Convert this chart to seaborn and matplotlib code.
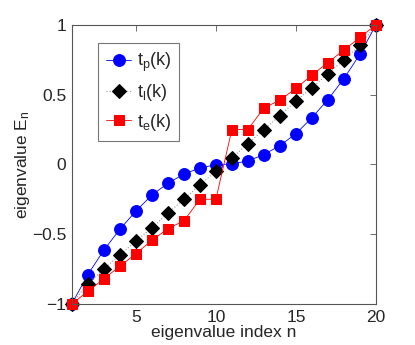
import pandas as pd
import matplotlib
matplotlib.use("Agg")
import matplotlib.pyplot as plt
import seaborn as sns

# eigenvalue index
n = list(range(1, 21))

# eigenvalues
tp = [-1.0, -0.79, -0.615, -0.465, -0.335, -0.22, -0.135, -0.07, -0.025, -0.003,
      0.003, 0.025, 0.07, 0.135, 0.22, 0.335, 0.465, 0.615, 0.79, 1.0]
tl = [-1.0, -0.855, -0.75, -0.65, -0.55, -0.455, -0.35, -0.25, -0.148, -0.048,
      0.048, 0.148, 0.25, 0.35, 0.455, 0.55, 0.65, 0.75, 0.855, 1.0]
te = [-1.0, -0.91, -0.82, -0.73, -0.64, -0.545, -0.46, -0.405, -0.25, -0.25,
      0.25, 0.25, 0.405, 0.46, 0.545, 0.64, 0.73, 0.82, 0.91, 1.0]

labels = [r"$\mathregular{t_p(k)}$", r"$\mathregular{t_l(k)}$", r"$\mathregular{t_e(k)}$"]

sns.set_style("white")
plt.rcParams['font.family'] = ['Liberation Sans', 'DejaVu Sans']
plt.rcParams['font.size'] = 12

df = pd.DataFrame({'n': n, 'tp': tp, 'tl': tl, 'te': te})

fig = plt.figure(figsize=(4.15, 3.45), dpi=100)
ax = fig.add_axes([0.173, 0.119, 0.733, 0.809])

sns.lineplot(data=df, x='n', y='tp', ax=ax, color='blue', marker='o', markersize=8.5,
             markeredgecolor='blue', linewidth=0.6, label=labels[0])
sns.lineplot(data=df, x='n', y='tl', ax=ax, color='black', marker='D', markersize=7,
             markeredgecolor='black', linewidth=0.8, linestyle=':', label=labels[1])
ax.lines[-1].set_color('#999999')
ax.lines[-1].set_markerfacecolor('black')
ax.lines[-1].set_markeredgecolor('black')
sns.lineplot(data=df, x='n', y='te', ax=ax, color='red', marker='s', markersize=6.5,
             markeredgecolor='red', linewidth=0.6, label=labels[2])

ax.set_xlim(1, 20)
ax.set_ylim(-1, 1)
ax.set_xticks([5, 10, 15, 20])
ax.set_yticks([-1, -0.5, 0, 0.5, 1])
ax.set_yticklabels(['\u22121', '\u22120.5', '0', '0.5', '1'])
ax.set_xlabel('eigenvalue index n', fontsize=12.5, labelpad=0)
ax.set_ylabel(r'eigenvalue $\mathregular{E_n}$', fontsize=12.5, labelpad=0)

for s in ax.spines.values():
    s.set_color('#555555')
    s.set_linewidth(0.8)
    s.set_visible(True)
ax.tick_params(direction='in', top=True, right=True, length=4, width=0.6,
               color='#555555', labelsize=12.5, pad=4)

for l in ax.lines:
    l.set_clip_on(False)

leg = ax.legend(loc='upper left', bbox_to_anchor=(0.086, 0.935), frameon=True,
                fancybox=False, edgecolor='#555555', fontsize=13,
                handlelength=1.4, handletextpad=0.3, labelspacing=0.45,
                borderpad=0.45, borderaxespad=0)
leg.get_frame().set_linewidth(0.8)

fig.savefig('out.png', dpi=100)
